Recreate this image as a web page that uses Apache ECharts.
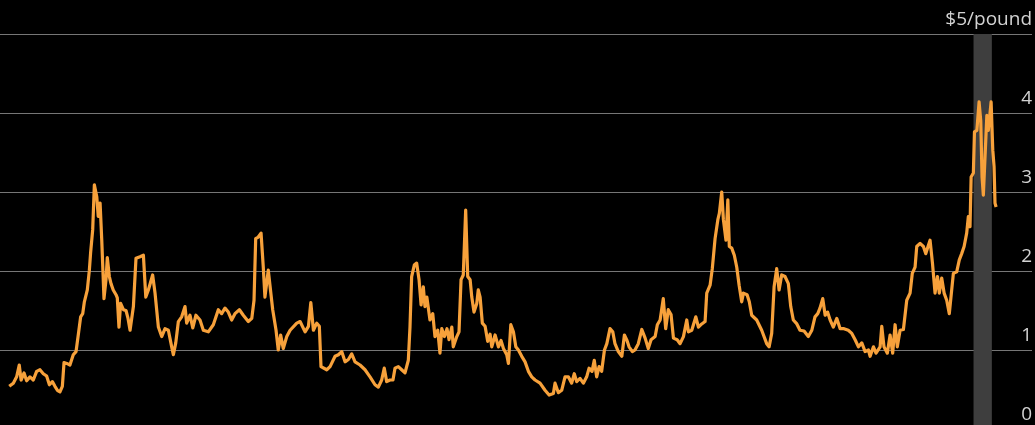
<!DOCTYPE html>
<html>
<head>
<meta charset="utf-8">
<script src="https://cdn.jsdelivr.net/npm/echarts@6/dist/echarts.min.js"></script>
<style>
html,body{margin:0;padding:0;background:#000;}
#chart{width:1035px;height:425px;}
</style>
</head>
<body>
<div id="chart"></div>
<script>
// Decimal-year dates and prices ($/pound)
const dates = [
1972.66,1972.88,1973.06,1973.20,1973.30,1973.46,1973.60,1973.78,1973.96,1974.14,
1974.32,1974.50,1974.68,1974.83,1974.99,1975.13,1975.26,1975.40,1975.53,1975.62,
1975.77,1975.94,1976.12,1976.27,1976.39,1976.52,1976.63,1976.72,1976.88,1976.99,
1977.06,1977.17,1977.26,1977.39,1977.47,1977.57,1977.66,1977.78,1977.89,1977.96,
1978.07,1978.16,1978.28,1978.43,1978.50,1978.59,1978.68,1978.83,1978.97,1979.08,
1979.19,1979.37,1979.51,1979.73,1979.91,1980.04,1980.18,1980.41,1980.54,1980.72,
1980.90,1981.08,1981.26,1981.44,1981.53,1981.66,1981.80,1981.98,1982.16,1982.25,
1982.43,1982.58,1982.75,1982.97,1983.15,1983.42,1983.69,1983.96,1984.14,1984.32,
1984.50,1984.68,1984.86,1985.10,1985.31,1985.58,1985.77,1985.89,1985.98,1986.12,
1986.27,1986.39,1986.48,1986.66,1986.75,1986.90,1987.08,1987.20,1987.33,1987.47,
1987.66,1987.84,1988.20,1988.38,1988.65,1988.83,1988.96,1989.10,1989.28,1989.42,
1989.51,1989.82,1990.00,1990.27,1990.45,1990.63,1990.81,1990.99,1991.17,1991.35,
1991.62,1991.89,1992.16,1992.43,1992.61,1992.79,1992.93,1993.06,1993.24,1993.40,
1993.51,1993.69,1993.87,1994.05,1994.23,1994.32,1994.41,1994.56,1994.68,1994.81,
1994.92,1995.04,1995.13,1995.23,1995.40,1995.55,1995.67,1995.82,1995.94,1996.04,
1996.18,1996.32,1996.43,1996.58,1996.66,1996.85,1996.97,1997.08,1997.20,1997.33,
1997.44,1997.57,1997.66,1997.78,1997.93,1998.01,1998.11,1998.23,1998.38,1998.52,
1998.65,1998.74,1998.92,1999.10,1999.24,1999.37,1999.55,1999.64,1999.77,1999.91,
2000.04,2000.18,2000.36,2000.54,2000.72,2000.90,2001.08,2001.35,2001.62,2001.84,
2002.07,2002.16,2002.34,2002.52,2002.70,2002.88,2003.06,2003.20,2003.33,2003.51,
2003.69,2003.87,2004.00,2004.16,2004.28,2004.41,2004.54,2004.68,2004.83,2004.96,
2005.13,2005.28,2005.40,2005.58,2005.77,2005.91,2006.05,2006.16,2006.34,2006.48,
2006.66,2006.85,2007.03,2007.20,2007.35,2007.57,2007.69,2007.84,2008.01,2008.14,
2008.28,2008.43,2008.56,2008.76,2008.92,2009.10,2009.28,2009.37,2009.55,2009.77,
2009.91,2010.09,2010.27,2010.36,2010.54,2010.66,2010.81,2010.96,2011.04,2011.17,
2011.26,2011.40,2011.50,2011.58,2011.71,2011.85,2011.98,2012.11,2012.25,2012.34,
2012.43,2012.54,2012.66,2012.79,2013.06,2013.33,2013.60,2013.73,2013.87,2014.00,
2014.14,2014.27,2014.41,2014.59,2014.77,2014.90,2015.04,2015.23,2015.40,2015.62,
2015.85,2016.04,2016.21,2016.36,2016.48,2016.63,2016.76,2016.89,2017.03,2017.20,
2017.39,2017.57,2017.78,2018.01,2018.20,2018.38,2018.56,2018.74,2018.92,2019.10,
2019.19,2019.37,2019.51,2019.73,2019.82,2019.94,2020.12,2020.27,2020.41,2020.54,
2020.66,2020.81,2020.99,2021.17,2021.35,2021.47,2021.62,2021.71,2021.89,2022.07,
2022.20,2022.32,2022.43,2022.56,2022.70,2022.83,2022.93,2023.06,2023.19,2023.33,
2023.47,2023.60,2023.69,2023.87,2024.01,2024.14,2024.27,2024.41,2024.50,2024.59,
2024.65,2024.77,2024.83,2024.96,2025.08,2025.17,2025.24,2025.31,2025.40,2025.50,
2025.58,2025.73,2025.82,2025.89,2025.94,2026.00
];
const prices = [
0.54,0.58,0.66,0.81,0.62,0.71,0.61,0.66,0.62,0.73,
0.75,0.70,0.67,0.56,0.60,0.54,0.49,0.47,0.54,0.84,
0.83,0.81,0.94,0.98,1.19,1.42,1.46,1.61,1.76,2.01,
2.24,2.52,3.09,2.94,2.69,2.86,2.39,1.65,1.89,2.17,
1.93,1.84,1.76,1.70,1.66,1.29,1.59,1.51,1.50,1.40,
1.25,1.55,2.16,2.18,2.20,1.67,1.76,1.95,1.72,1.29,
1.17,1.27,1.25,1.04,0.94,1.09,1.36,1.42,1.55,1.34,
1.44,1.28,1.44,1.38,1.25,1.23,1.32,1.51,1.46,1.53,
1.48,1.38,1.46,1.51,1.44,1.36,1.40,1.63,2.41,2.43,
2.48,2.05,1.67,2.01,2.02,1.51,1.25,1.00,1.19,1.02,
1.17,1.25,1.34,1.36,1.23,1.30,1.60,1.25,1.34,1.30,
0.79,0.75,0.79,0.92,0.94,0.98,0.85,0.88,0.95,0.85,
0.81,0.75,0.66,0.56,0.53,0.62,0.77,0.60,0.62,0.62,
0.77,0.79,0.75,0.71,0.87,1.29,1.93,2.08,2.10,1.89,
1.57,1.80,1.55,1.67,1.38,1.46,1.17,1.25,0.96,1.27,
1.17,1.27,1.13,1.29,1.04,1.17,1.23,1.89,1.95,2.77,
1.93,1.89,1.67,1.48,1.59,1.76,1.67,1.34,1.30,1.11,
1.20,1.04,1.19,1.04,1.12,1.02,0.94,0.83,1.32,1.23,
1.04,1.00,0.92,0.85,0.73,0.66,0.62,0.58,0.49,0.43,
0.45,0.58,0.46,0.49,0.66,0.66,0.58,0.70,0.60,0.64,
0.58,0.66,0.77,0.73,0.87,0.66,0.79,0.73,1.00,1.08,
1.27,1.23,1.08,0.98,0.92,1.19,1.12,1.04,0.98,1.00,
1.08,1.26,1.15,1.02,1.13,1.17,1.32,1.38,1.65,1.27,
1.51,1.45,1.15,1.13,1.08,1.17,1.38,1.23,1.25,1.42,
1.29,1.33,1.36,1.72,1.82,2.03,2.41,2.65,2.73,3.00,
2.65,2.39,2.90,2.31,2.29,2.20,2.05,1.82,1.61,1.72,
1.74,1.70,1.61,1.44,1.38,1.25,1.08,1.04,1.21,1.80,
2.03,1.76,1.95,1.93,1.84,1.55,1.38,1.33,1.25,1.24,
1.17,1.25,1.42,1.46,1.53,1.65,1.44,1.48,1.38,1.29,
1.40,1.27,1.27,1.25,1.21,1.13,1.04,1.09,0.98,1.00,
0.92,1.04,0.96,1.04,1.30,1.04,0.96,1.19,0.96,1.32,
1.04,1.25,1.26,1.63,1.72,1.97,2.05,2.31,2.35,2.31,
2.22,2.31,2.39,2.10,1.72,1.93,1.72,1.91,1.72,1.63,
1.46,1.76,1.97,1.99,2.14,2.22,2.31,2.48,2.69,2.56,
3.19,3.24,3.76,3.78,4.14,3.90,3.19,2.96,2.94,3.97,
3.78,4.14,3.53,3.32,2.86,2.81
];
const yTicks = [0, 1, 2, 3, 4, 5];
const tickLabels = ['0', '1', '2', '3', '4', '$5/pound'];
const shadedPeriod = [2024.78, 2025.77];

const chart = echarts.init(document.getElementById('chart'), null, {renderer: 'canvas'});
const seriesData = dates.map((d, i) => [d, prices[i]]);

chart.setOption({
  backgroundColor: '#000000',
  animation: false,
  grid: {left: 0, right: 3, top: 34, height: 395, outerBoundsMode: 'none'},
  xAxis: {
    type: 'value',
    min: 1972.16,
    max: 2027.94,
    show: false,
    splitLine: {show: false}
  },
  yAxis: {
    type: 'value',
    position: 'right',
    min: 0,
    max: 5,
    interval: 1,
    axisLine: {show: false},
    axisTick: {show: false},
    splitLine: {show: true, lineStyle: {color: '#767676', width: 1}},
    axisLabel: {
      inside: true,
      margin: 0,
      color: '#d2d2d2',
      fontFamily: 'Open Sans',
      fontSize: 19,
      verticalAlign: 'bottom',
      padding: [0, 0, 5, 0],
      formatter: function (v) {
        const idx = yTicks.indexOf(v);
        return idx >= 0 ? tickLabels[idx] : '';
      }
    }
  },
  series: [{
    type: 'line',
    data: seriesData,
    showSymbol: false,
    symbol: 'none',
    lineStyle: {color: '#f7a13b', width: 3.2, join: 'round'},
    z: 3,
    markArea: {
      silent: true,
      z: 1,
      itemStyle: {color: '#3e3e3e'},
      data: [[{xAxis: shadedPeriod[0], yAxis: 0}, {xAxis: shadedPeriod[1], yAxis: 5}]]
    }
  }]
});
</script>
</body>
</html>
